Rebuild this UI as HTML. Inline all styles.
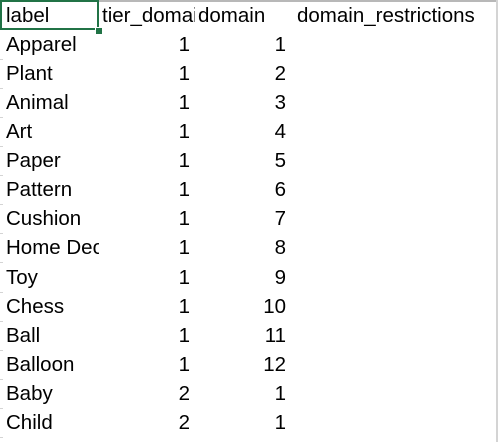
<!DOCTYPE html>
<html><head><meta charset="utf-8"><style>
html,body{margin:0;padding:0;background:#fff;}
body{width:498px;height:442px;position:relative;overflow:hidden;font-family:"Liberation Sans",sans-serif;font-size:20.5px;color:#000;}
.t{position:absolute;line-height:22px;white-space:nowrap;}
.r{text-align:right;}
.g{position:absolute;background:#d4d4d4;}
</style></head><body>
<div class="g" style="left:99px;top:0;width:399px;height:2px;background:#b8b8b8"></div>
<div class="g" style="left:496px;top:0;width:2px;height:442px;"></div>
<div class="t" style="left:6px;top:5px">label</div>
<div class="t" style="left:102px;top:5px;width:93px;overflow:hidden">tier_domain</div>
<div class="t" style="left:198px;top:5px">domain</div>
<div class="t" style="left:297px;top:5px">domain_restrictions</div>
<div style="position:absolute;left:0;top:0;width:95px;height:26px;border:2px solid #217346;"></div>
<div style="position:absolute;left:95px;top:27px;width:6px;height:6px;background:#217346;border:1px solid #fff;"></div>
<div id="rows"></div>
<script>
var d=[["Apparel",1,1],["Plant",1,2],["Animal",1,3],["Art",1,4],["Paper",1,5],["Pattern",1,6],["Cushion",1,7],["Home Dec",1,8],["Toy",1,9],["Chess",1,10],["Ball",1,11],["Balloon",1,12],["Baby",2,1],["Child",2,1]];
var h="";
for(var i=0;i<d.length;i++){var y=Math.round(34+29.07*i);
h+='<div class="t" style="left:6px;top:'+y+'px;width:93px;overflow:hidden">'+d[i][0]+'</div>';
h+='<div class="t r" style="left:99px;top:'+y+'px;width:91px">'+d[i][1]+'</div>';
h+='<div class="t r" style="left:195px;top:'+y+'px;width:91px">'+d[i][2]+'</div>';
h+='<div class="g" style="left:0;top:'+Math.round(59+29.07*i)+'px;width:3px;height:1px"></div>';}
document.getElementById("rows").innerHTML=h;
</script>
</body></html>
